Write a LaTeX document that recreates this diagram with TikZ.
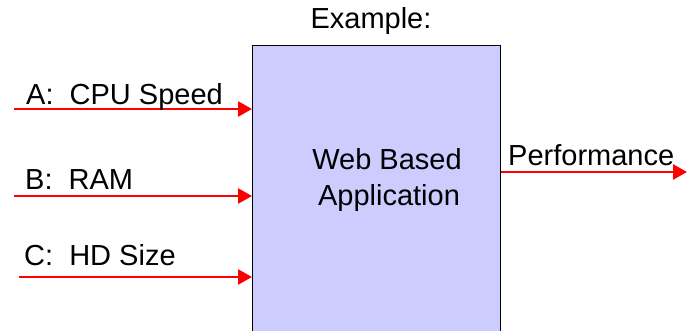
\documentclass[tikz,border=0pt]{standalone}
\usepackage{fontspec}
\setmainfont{Liberation Sans}
\usetikzlibrary{arrows.meta, positioning}

\tikzset{
    sig/.style={draw=red, line width=2.7pt, -{Triangle[length=14pt, width=15pt]}},
    lbl/.style={anchor=base west, inner sep=0pt, font=\fontsize{29}{36}\selectfont},
}

\begin{document}
\begin{tikzpicture}[x=1pt, y=-1pt]
    \useasboundingbox (0,0) rectangle (687,331);
    \clip (0,0) rectangle (687,331);

    % the system block
    \node[draw=black, line width=1.2pt, fill={rgb,255:red,204;green,204;blue,255},
          minimum width=248pt, minimum height=320pt, anchor=north west,
          inner sep=0pt] (app) at (252,45) {};
    \node[lbl, anchor=base] (title) at (371,29) {Example:};
    \node[lbl, anchor=base] (name1) at (387,169) {Web Based};
    \node[lbl, anchor=base] (name2) at (389,205) {Application};

    % inputs
    \coordinate (ina) at (14,109);
    \coordinate (inb) at (14,196);
    \coordinate (inc) at (19,277);
    \draw[sig] (ina) -- (ina -| app.west);
    \draw[sig] (inb) -- (inb -| app.west);
    \draw[sig] (inc) -- (inc -| app.west);
    \node[lbl] (la) at (26,105) {A:\ \ CPU Speed};
    \node[lbl] (lb) at (25,189) {B:\ \ RAM};
    \node[lbl] (lc) at (24,265) {C:\ \ HD Size};

    % output
    \coordinate (out) at (687,172);
    \draw[sig] (out -| app.east) -- (out);
    \node[lbl] (lp) at (508,165) {Performance};
\end{tikzpicture}
\end{document}
